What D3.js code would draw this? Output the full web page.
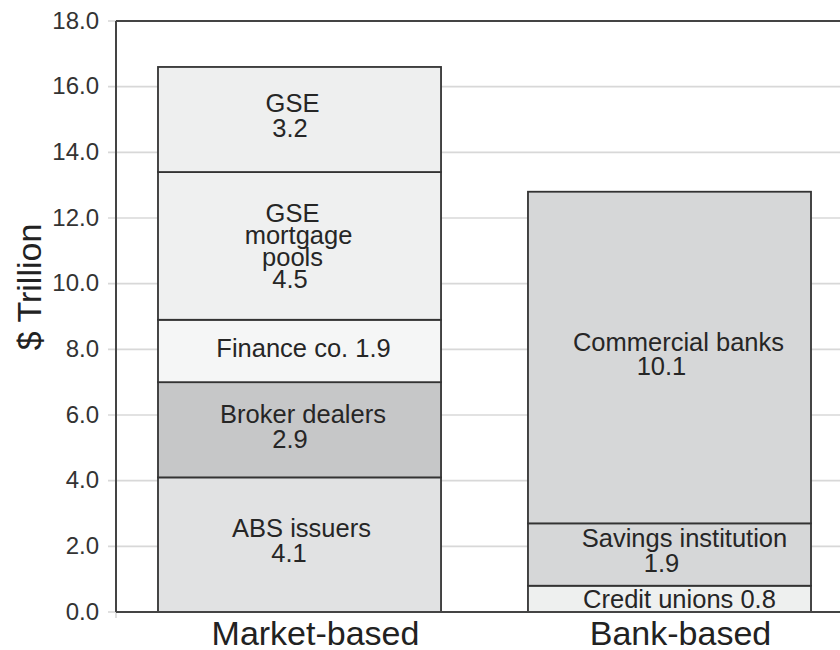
<!DOCTYPE html>
<html>
<head>
<meta charset="utf-8">
<script src="https://cdn.jsdelivr.net/npm/d3@7"></script>
<style>
  html, body { margin: 0; padding: 0; background: #fff; }
  svg { display: block; font-family: "Liberation Sans", Arial, Helvetica, sans-serif; }
</style>
</head>
<body>
<svg id="chart" width="840" height="650"></svg>
<script>
// ---- Data ----
const categories = ["Market-based", "Bank-based"];
const marketSegments = ["ABS issuers", "Broker dealers", "Finance co.", "GSE mortgage pools", "GSE"];
const marketValues = [4.1, 2.9, 1.9, 4.5, 3.2];
const bankSegments = ["Credit unions", "Savings institution", "Commercial banks"];
const bankValues = [0.8, 1.9, 10.1];
const yTicks = [0, 2, 4, 6, 8, 10, 12, 14, 16, 18];
const yLabel = "$ Trillion";

// ---- Styling / layout (not data) ----
const segmentFill = {
  "ABS issuers": "#e1e2e3",
  "Broker dealers": "#c6c7c8",
  "Finance co.": "#f5f6f6",
  "GSE mortgage pools": "#eff0f0",
  "GSE": "#eeefef",
  "Credit unions": "#eef0ef",
  "Savings institution": "#d6d7d8",
  "Commercial banks": "#d6d7d8"
};
// label line breaks: "name" lines then value; dx per line, dy shift of block
const labelLayout = {
  "ABS issuers":        { lines: ["ABS issuers", "{v}"], dx: [2, -10.5], lh: 25, dy: 0 },
  "Broker dealers":     { lines: ["Broker dealers", "{v}"], dx: [3.5, -9.5], lh: 25, dy: 1 },
  "Finance co.":        { lines: ["Finance co. {v}"], dx: [4], lh: 25, dy: 1 },
  "GSE mortgage pools": { lines: ["GSE", "mortgage", "pools", "{v}"], dx: [-7, -1, -7, -9.5], lh: 22, dy: 4 },
  "GSE":                { lines: ["GSE", "{v}"], dx: [-7, -9.5], lh: 25, dy: 0 },
  "Credit unions":      { lines: ["Credit unions {v}"], dx: [10], lh: 25, dy: 4 },
  "Savings institution":{ lines: ["Savings institution", "{v}"], dx: [15, -8], lh: 25, dy: 0 },
  "Commercial banks":   { lines: ["Commercial banks", "{v}"], dx: [9, -8], lh: 24, dy: 0 }
};
const catLabelDx = [16, 11];

const svg = d3.select("#chart");
const plotLeft = 116, plotTop = 21, plotBottom = 612, plotRight = 853;

const y = d3.scaleLinear().domain([0, 18]).range([plotBottom, plotTop]);
const x = d3.scaleBand().domain(categories).range([plotLeft, plotRight])
  .paddingInner(0.235).paddingOuter(0.1135);

// gridlines + ticks (light)
const grid = svg.append("g");
grid.selectAll("line").data(yTicks.filter(t => t > 0 && t < 18)).join("line")
  .attr("x1", plotLeft - 8).attr("x2", 845)
  .attr("y1", d => y(d)).attr("y2", d => y(d))
  .attr("stroke", "#d8d8d8").attr("stroke-width", 1.6);
// small ticks at 0 and 18 outside
grid.selectAll("line.edge").data([0, 18]).join("line").attr("class", "edge")
  .attr("x1", plotLeft - 8).attr("x2", plotLeft)
  .attr("y1", d => y(d)).attr("y2", d => y(d))
  .attr("stroke", "#d8d8d8").attr("stroke-width", 1.6);
grid.append("line")
  .attr("x1", plotLeft).attr("x2", plotLeft)
  .attr("y1", plotBottom).attr("y2", plotBottom + 6)
  .attr("stroke", "#d8d8d8").attr("stroke-width", 1.6);

// y axis labels via d3 axis
const yAxis = d3.axisLeft(y).tickValues(yTicks).tickFormat(d3.format(".1f")).tickSize(0).tickPadding(17);
const ya = svg.append("g").attr("transform", `translate(${plotLeft},0)`).call(yAxis);
ya.select(".domain").remove();
ya.selectAll("text")
  .attr("font-size", 24).attr("fill", "#333")
  .attr("font-family", "'Liberation Sans', Arial, sans-serif")
  .attr("dy", "0.30em");

// stacked bars
function stackSegments(names, values) {
  let acc = 0;
  return names.map((n, i) => {
    const s = { name: n, value: values[i], y0: acc, y1: acc + values[i] };
    acc += values[i];
    return s;
  });
}
const stacks = [
  { cat: categories[0], segs: stackSegments(marketSegments, marketValues) },
  { cat: categories[1], segs: stackSegments(bankSegments, bankValues) }
];

const barsG = svg.append("g");
stacks.forEach(st => {
  const g = barsG.append("g");
  g.selectAll("rect").data(st.segs).join("rect")
    .attr("x", x(st.cat))
    .attr("width", x.bandwidth())
    .attr("y", d => y(d.y1))
    .attr("height", d => y(d.y0) - y(d.y1))
    .attr("fill", d => segmentFill[d.name])
    .attr("stroke", "#333")
    .attr("stroke-width", 1.8);

  st.segs.forEach(d => {
    const L = labelLayout[d.name];
    const cx = x(st.cat) + x.bandwidth() / 2;
    const cy = (y(d.y0) + y(d.y1)) / 2;
    const n = L.lines.length;
    const first = cy - (n - 1) * L.lh / 2 + 5 + L.dy;
    L.lines.forEach((ln, i) => {
      g.append("text")
        .attr("x", cx + L.dx[i])
        .attr("y", first + i * L.lh)
        .attr("text-anchor", "middle")
        .attr("font-size", 25.5)
        .attr("fill", "#262626")
        .text(ln.replace("{v}", d3.format(".1f")(d.value)));
    });
  });
});

// frame: left spine, top, bottom
const frame = svg.append("g").attr("stroke", "#444").attr("stroke-width", 2).attr("fill", "none");
frame.append("line").attr("x1", plotLeft).attr("x2", plotLeft).attr("y1", plotTop).attr("y2", plotBottom);
frame.append("line").attr("x1", plotLeft).attr("x2", 845).attr("y1", plotTop).attr("y2", plotTop);
frame.append("line").attr("x1", plotLeft).attr("x2", 845).attr("y1", plotBottom).attr("y2", plotBottom);

// category labels
svg.append("g").selectAll("text").data(categories).join("text")
  .attr("x", (d, i) => x(d) + x.bandwidth() / 2 + catLabelDx[i])
  .attr("y", 645)
  .attr("text-anchor", "middle")
  .attr("font-size", 34)
  .attr("fill", "#222")
  .text(d => d);

// y label
svg.append("text")
  .attr("transform", "translate(41,287) rotate(-90)")
  .attr("text-anchor", "middle")
  .attr("font-size", 34)
  .attr("fill", "#222")
  .text(yLabel);
</script>
</body>
</html>
